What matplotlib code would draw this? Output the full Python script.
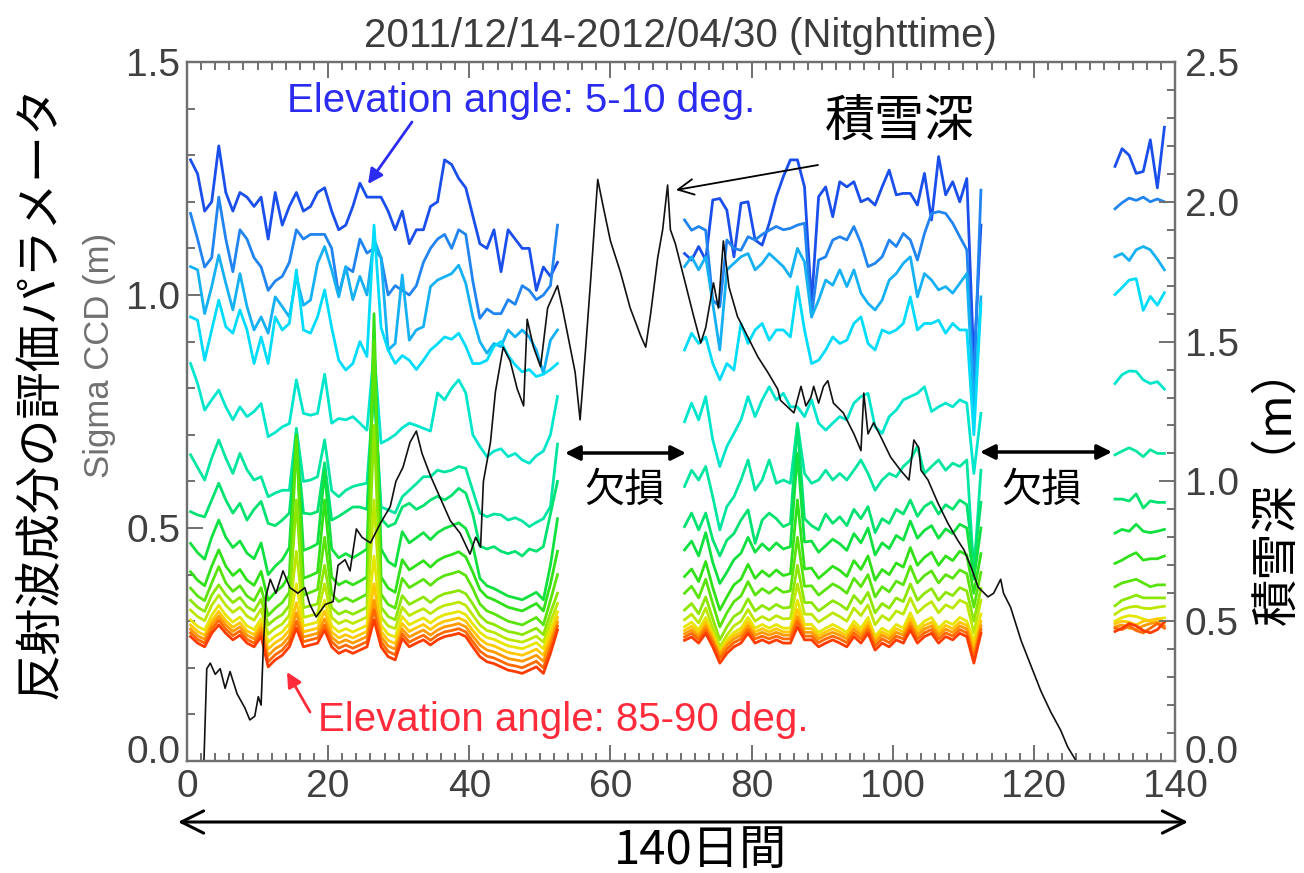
import numpy as np
import matplotlib
matplotlib.use("Agg")
import matplotlib.pyplot as plt
from matplotlib.ticker import MultipleLocator
from matplotlib.patches import FancyArrowPatch
from matplotlib.transforms import ScaledTranslation

# observation days (daily points), data missing between the three runs
days_1 = np.arange(0.5, 53.0, 1.0)
days_2 = np.arange(70.5, 113.0, 1.0)
days_3 = np.arange(131.5, 139.0, 1.0)

# Sigma CCD (m) per elevation bin: run 1 (53), run 2 (43), run 3 (8)
el_05 = [1.29, 1.26, 1.18, 1.20, 1.32, 1.22, 1.18, 1.22, 1.21, 1.19, 1.21, 1.12, 1.22, 1.15, 1.19, 1.22, 1.18, 1.19, 1.22, 1.23, 1.18, 1.14, 1.15, 1.19, 1.24, 1.21, 1.21, 1.21, 1.18, 1.14, 1.18, 1.11, 1.14, 1.14, 1.19, 1.20, 1.29, 1.28, 1.25, 1.23, 1.17, 1.11, 1.10, 1.14, 1.05, 1.14, 1.12, 1.10, 1.10, 1.01, 1.06, 1.04, 1.07,
         1.089, 1.075, 1.104, 1.075, 1.204, 1.207, 1.182, 1.082, 1.197, 1.200, 1.118, 1.107, 1.154, 1.211, 1.254, 1.290, 1.290, 1.232, 0.982, 1.211, 1.232, 1.168, 1.243, 1.232, 1.243, 1.200, 1.207, 1.193, 1.232, 1.268, 1.215, 1.218, 1.218, 1.193, 1.261, 1.161, 1.297, 1.215, 1.243, 1.200, 1.250, 0.850, 1.150,
         1.276, 1.314, 1.300, 1.261, 1.265, 1.333, 1.230, 1.360]
el_10 = [1.175, 1.12, 1.06, 1.08, 1.21, 1.12, 1.05, 1.14, 1.12, 1.08, 1.06, 1.01, 1.03, 1.04, 1.07, 1.14, 1.12, 1.13, 1.13, 1.13, 1.10, 1.00, 1.06, 1.05, 1.12, 1.09, 1.10, 1.08, 1.00, 1.02, 1.01, 1.00, 1.02, 1.07, 1.10, 1.12, 1.13, 1.10, 1.14, 1.13, 1.03, 0.95, 0.97, 0.96, 0.96, 0.99, 0.98, 1.02, 1.01, 0.99, 1.00, 1.02, 1.15,
         1.161, 1.139, 1.147, 1.139, 0.989, 0.975, 1.118, 1.100, 1.096, 1.125, 1.118, 1.130, 1.139, 1.147, 1.140, 1.143, 1.150, 1.154, 0.953, 1.075, 1.082, 1.118, 1.125, 1.118, 1.147, 1.111, 1.061, 1.068, 1.082, 1.118, 1.104, 1.132, 1.118, 1.075, 1.132, 1.175, 1.179, 1.175, 1.154, 1.125, 1.097, 0.800, 1.225,
         1.185, 1.198, 1.208, 1.203, 1.210, 1.200, 1.206, 1.200]
el_15 = [1.061, 1.054, 0.960, 1.018, 1.086, 1.025, 0.968, 1.046, 0.975, 0.925, 0.953, 0.918, 0.996, 0.975, 0.953, 1.039, 0.978, 0.989, 1.068, 1.104, 1.054, 0.996, 1.061, 0.990, 1.040, 1.000, 1.120, 1.080, 0.882, 0.896, 1.043, 0.903, 0.925, 0.932, 1.018, 1.032, 1.039, 1.046, 1.064, 1.025, 0.953, 0.900, 0.875, 0.896, 0.889, 0.925, 0.910, 0.925, 0.910, 0.882, 0.832, 0.903, 0.925,
         1.061, 1.082, 1.054, 1.082, 0.982, 0.882, 1.054, 1.068, 1.082, 1.089, 1.054, 1.068, 1.089, 1.075, 1.061, 1.039, 1.100, 1.071, 0.953, 0.989, 1.032, 1.021, 1.054, 1.018, 1.054, 1.004, 0.982, 0.968, 0.989, 1.032, 1.046, 1.068, 1.082, 0.996, 1.046, 1.032, 1.011, 1.018, 1.004, 1.025, 1.046, 0.750, 0.996,
         1.082, 1.089, 1.074, 1.097, 1.104, 1.097, 1.077, 1.054]
el_20 = [0.953, 0.946, 0.860, 0.925, 0.989, 0.932, 0.918, 0.968, 0.925, 0.853, 0.910, 0.853, 0.953, 0.925, 0.939, 1.054, 0.925, 0.918, 0.953, 1.011, 0.930, 0.860, 0.839, 0.853, 0.900, 0.868, 1.150, 0.930, 0.882, 0.853, 0.870, 0.860, 0.840, 0.860, 0.882, 0.895, 0.910, 0.905, 0.918, 0.890, 0.853, 0.853, 0.860, 0.890, 0.900, 0.870, 0.850, 0.835, 0.840, 0.825, 0.830, 0.840, 0.853,
         0.882, 0.918, 0.896, 0.910, 0.853, 0.818, 0.853, 0.839, 0.939, 0.896, 0.925, 0.939, 0.903, 0.925, 0.925, 0.910, 1.018, 0.925, 0.853, 0.860, 0.882, 0.910, 0.896, 0.903, 0.939, 0.953, 0.896, 0.882, 0.925, 0.918, 0.925, 0.939, 0.996, 0.925, 0.939, 0.939, 0.946, 0.918, 0.939, 0.925, 0.925, 0.700, 0.982,
         1.001, 1.016, 1.032, 1.035, 0.967, 0.997, 0.978, 1.005]
el_25 = [0.853, 0.810, 0.753, 0.775, 0.796, 0.760, 0.732, 0.760, 0.739, 0.750, 0.767, 0.696, 0.705, 0.717, 0.724, 0.818, 0.746, 0.742, 0.746, 0.830, 0.725, 0.735, 0.732, 0.739, 0.725, 0.710, 0.880, 0.682, 0.690, 0.700, 0.715, 0.725, 0.720, 0.714, 0.708, 0.790, 0.775, 0.800, 0.818, 0.790, 0.700, 0.675, 0.653, 0.665, 0.670, 0.653, 0.660, 0.646, 0.639, 0.655, 0.665, 0.700, 0.782,
         0.728, 0.768, 0.732, 0.782, 0.689, 0.632, 0.675, 0.703, 0.732, 0.782, 0.739, 0.775, 0.803, 0.775, 0.789, 0.760, 0.760, 0.739, 0.775, 0.725, 0.710, 0.725, 0.739, 0.732, 0.768, 0.782, 0.789, 0.717, 0.703, 0.739, 0.753, 0.775, 0.782, 0.789, 0.803, 0.750, 0.760, 0.768, 0.760, 0.775, 0.768, 0.617, 0.746,
         0.810, 0.829, 0.837, 0.836, 0.818, 0.810, 0.814, 0.798]
el_30 = [0.657, 0.630, 0.603, 0.650, 0.689, 0.650, 0.617, 0.660, 0.625, 0.603, 0.610, 0.567, 0.575, 0.581, 0.581, 0.714, 0.600, 0.603, 0.610, 0.689, 0.580, 0.567, 0.581, 0.589, 0.593, 0.596, 0.800, 0.545, 0.539, 0.532, 0.567, 0.581, 0.595, 0.610, 0.610, 0.624, 0.620, 0.624, 0.632, 0.628, 0.580, 0.532, 0.524, 0.530, 0.528, 0.517, 0.522, 0.515, 0.503, 0.512, 0.520, 0.546, 0.680,
         0.589, 0.624, 0.603, 0.632, 0.567, 0.496, 0.546, 0.567, 0.603, 0.646, 0.581, 0.603, 0.646, 0.596, 0.603, 0.596, 0.725, 0.617, 0.596, 0.603, 0.624, 0.603, 0.617, 0.603, 0.624, 0.646, 0.617, 0.581, 0.603, 0.617, 0.610, 0.632, 0.646, 0.675, 0.617, 0.632, 0.646, 0.624, 0.639, 0.632, 0.646, 0.403, 0.624,
         0.657, 0.665, 0.672, 0.665, 0.653, 0.668, 0.660, 0.660]
el_35 = [0.535, 0.528, 0.524, 0.560, 0.596, 0.560, 0.532, 0.553, 0.517, 0.540, 0.557, 0.510, 0.505, 0.517, 0.532, 0.690, 0.532, 0.530, 0.535, 0.640, 0.517, 0.525, 0.535, 0.545, 0.545, 0.540, 0.820, 0.520, 0.503, 0.510, 0.545, 0.553, 0.540, 0.548, 0.560, 0.568, 0.560, 0.570, 0.585, 0.575, 0.530, 0.461, 0.455, 0.460, 0.450, 0.445, 0.450, 0.440, 0.455, 0.450, 0.460, 0.530, 0.600,
         0.503, 0.532, 0.496, 0.532, 0.475, 0.440, 0.474, 0.488, 0.517, 0.539, 0.467, 0.517, 0.532, 0.520, 0.503, 0.510, 0.720, 0.520, 0.505, 0.496, 0.530, 0.510, 0.524, 0.505, 0.540, 0.520, 0.546, 0.490, 0.520, 0.510, 0.540, 0.530, 0.560, 0.525, 0.546, 0.556, 0.530, 0.550, 0.540, 0.560, 0.550, 0.420, 0.555,
         0.562, 0.562, 0.558, 0.573, 0.543, 0.558, 0.555, 0.555]
el_40 = [0.467, 0.447, 0.433, 0.480, 0.517, 0.480, 0.458, 0.472, 0.446, 0.434, 0.468, 0.400, 0.418, 0.432, 0.458, 0.700, 0.452, 0.458, 0.466, 0.620, 0.455, 0.436, 0.445, 0.436, 0.445, 0.455, 0.880, 0.455, 0.428, 0.418, 0.492, 0.468, 0.479, 0.490, 0.475, 0.490, 0.499, 0.505, 0.511, 0.499, 0.462, 0.392, 0.376, 0.370, 0.362, 0.354, 0.350, 0.346, 0.354, 0.362, 0.346, 0.420, 0.520,
         0.453, 0.472, 0.440, 0.490, 0.426, 0.381, 0.405, 0.432, 0.446, 0.480, 0.448, 0.466, 0.452, 0.468, 0.455, 0.460, 0.660, 0.470, 0.472, 0.448, 0.462, 0.476, 0.466, 0.452, 0.488, 0.468, 0.500, 0.442, 0.468, 0.456, 0.484, 0.474, 0.515, 0.478, 0.495, 0.505, 0.478, 0.498, 0.488, 0.508, 0.500, 0.390, 0.500,
         0.489, 0.497, 0.493, 0.508, 0.493, 0.490, 0.493, 0.497]
el_45 = [0.406, 0.388, 0.376, 0.418, 0.453, 0.418, 0.398, 0.411, 0.388, 0.377, 0.407, 0.345, 0.362, 0.375, 0.398, 0.700, 0.392, 0.398, 0.405, 0.560, 0.395, 0.378, 0.386, 0.378, 0.386, 0.395, 0.960, 0.395, 0.371, 0.362, 0.432, 0.410, 0.420, 0.430, 0.416, 0.430, 0.438, 0.443, 0.449, 0.438, 0.405, 0.368, 0.352, 0.346, 0.338, 0.330, 0.326, 0.322, 0.330, 0.338, 0.322, 0.380, 0.450,
         0.396, 0.412, 0.385, 0.428, 0.372, 0.324, 0.352, 0.378, 0.390, 0.422, 0.392, 0.408, 0.396, 0.410, 0.398, 0.402, 0.560, 0.412, 0.414, 0.392, 0.405, 0.418, 0.409, 0.396, 0.430, 0.411, 0.440, 0.388, 0.411, 0.400, 0.425, 0.416, 0.458, 0.420, 0.437, 0.448, 0.420, 0.440, 0.430, 0.450, 0.442, 0.360, 0.445,
         0.424, 0.431, 0.440, 0.447, 0.431, 0.434, 0.434, 0.440]
el_50 = [0.371, 0.354, 0.344, 0.382, 0.417, 0.382, 0.364, 0.376, 0.354, 0.344, 0.372, 0.312, 0.328, 0.340, 0.362, 0.690, 0.356, 0.362, 0.368, 0.480, 0.358, 0.342, 0.350, 0.342, 0.350, 0.358, 0.900, 0.358, 0.336, 0.328, 0.392, 0.372, 0.381, 0.390, 0.377, 0.390, 0.398, 0.402, 0.407, 0.398, 0.370, 0.337, 0.322, 0.316, 0.308, 0.300, 0.296, 0.292, 0.300, 0.308, 0.292, 0.345, 0.400,
         0.360, 0.375, 0.350, 0.390, 0.338, 0.288, 0.318, 0.342, 0.354, 0.385, 0.356, 0.370, 0.360, 0.372, 0.362, 0.365, 0.480, 0.375, 0.376, 0.356, 0.368, 0.380, 0.372, 0.360, 0.392, 0.374, 0.400, 0.352, 0.374, 0.363, 0.386, 0.378, 0.418, 0.382, 0.398, 0.408, 0.382, 0.400, 0.392, 0.410, 0.402, 0.330, 0.405,
         0.374, 0.382, 0.386, 0.390, 0.382, 0.374, 0.378, 0.378]
el_55 = [0.345, 0.330, 0.321, 0.356, 0.378, 0.356, 0.340, 0.351, 0.331, 0.322, 0.347, 0.292, 0.305, 0.314, 0.334, 0.560, 0.329, 0.333, 0.337, 0.420, 0.329, 0.315, 0.322, 0.315, 0.322, 0.330, 0.720, 0.330, 0.310, 0.303, 0.355, 0.336, 0.344, 0.352, 0.340, 0.352, 0.359, 0.362, 0.366, 0.359, 0.337, 0.312, 0.298, 0.293, 0.285, 0.278, 0.275, 0.271, 0.278, 0.285, 0.271, 0.318, 0.360,
         0.324, 0.338, 0.316, 0.352, 0.305, 0.260, 0.288, 0.310, 0.320, 0.348, 0.322, 0.334, 0.325, 0.336, 0.328, 0.330, 0.420, 0.340, 0.340, 0.322, 0.333, 0.344, 0.336, 0.325, 0.355, 0.338, 0.362, 0.318, 0.338, 0.328, 0.350, 0.342, 0.380, 0.345, 0.360, 0.370, 0.345, 0.362, 0.355, 0.372, 0.365, 0.300, 0.370,
         0.333, 0.345, 0.350, 0.356, 0.350, 0.350, 0.350, 0.350]
el_60 = [0.324, 0.310, 0.301, 0.334, 0.356, 0.334, 0.319, 0.330, 0.311, 0.302, 0.326, 0.272, 0.285, 0.294, 0.313, 0.450, 0.308, 0.312, 0.316, 0.380, 0.308, 0.295, 0.302, 0.295, 0.302, 0.309, 0.560, 0.309, 0.290, 0.284, 0.330, 0.312, 0.320, 0.327, 0.316, 0.327, 0.334, 0.337, 0.341, 0.334, 0.313, 0.292, 0.280, 0.276, 0.268, 0.261, 0.258, 0.255, 0.261, 0.268, 0.255, 0.298, 0.338,
         0.303, 0.315, 0.296, 0.328, 0.285, 0.245, 0.270, 0.290, 0.300, 0.325, 0.300, 0.310, 0.302, 0.312, 0.305, 0.306, 0.380, 0.315, 0.315, 0.298, 0.308, 0.318, 0.310, 0.300, 0.328, 0.312, 0.335, 0.292, 0.312, 0.302, 0.322, 0.315, 0.350, 0.318, 0.332, 0.342, 0.318, 0.335, 0.328, 0.345, 0.338, 0.275, 0.345,
         0.315, 0.325, 0.330, 0.332, 0.328, 0.327, 0.330, 0.332]
el_65 = [0.303, 0.289, 0.281, 0.313, 0.334, 0.313, 0.298, 0.309, 0.290, 0.282, 0.305, 0.255, 0.268, 0.277, 0.295, 0.380, 0.290, 0.294, 0.298, 0.345, 0.290, 0.277, 0.284, 0.277, 0.284, 0.291, 0.440, 0.291, 0.272, 0.266, 0.310, 0.292, 0.300, 0.307, 0.296, 0.307, 0.314, 0.317, 0.321, 0.314, 0.294, 0.276, 0.265, 0.261, 0.254, 0.247, 0.244, 0.241, 0.247, 0.254, 0.241, 0.282, 0.320,
         0.288, 0.298, 0.282, 0.308, 0.272, 0.236, 0.260, 0.276, 0.285, 0.308, 0.285, 0.293, 0.285, 0.293, 0.285, 0.285, 0.345, 0.293, 0.293, 0.276, 0.285, 0.293, 0.285, 0.276, 0.300, 0.285, 0.308, 0.268, 0.285, 0.276, 0.293, 0.285, 0.318, 0.285, 0.300, 0.308, 0.285, 0.300, 0.293, 0.308, 0.300, 0.258, 0.315,
         0.300, 0.308, 0.312, 0.310, 0.305, 0.300, 0.305, 0.307]
el_70 = [0.292, 0.278, 0.270, 0.301, 0.321, 0.301, 0.287, 0.297, 0.279, 0.271, 0.294, 0.240, 0.254, 0.263, 0.281, 0.340, 0.277, 0.281, 0.285, 0.322, 0.277, 0.264, 0.271, 0.264, 0.271, 0.278, 0.380, 0.278, 0.259, 0.252, 0.295, 0.278, 0.286, 0.293, 0.282, 0.293, 0.300, 0.303, 0.307, 0.300, 0.280, 0.262, 0.251, 0.247, 0.240, 0.233, 0.230, 0.227, 0.233, 0.240, 0.227, 0.268, 0.308,
         0.280, 0.289, 0.275, 0.298, 0.267, 0.232, 0.254, 0.269, 0.277, 0.298, 0.277, 0.284, 0.277, 0.284, 0.277, 0.277, 0.325, 0.284, 0.284, 0.269, 0.277, 0.284, 0.277, 0.269, 0.291, 0.277, 0.298, 0.262, 0.277, 0.269, 0.284, 0.277, 0.306, 0.277, 0.291, 0.298, 0.277, 0.291, 0.284, 0.298, 0.291, 0.245, 0.300,
         0.295, 0.300, 0.298, 0.292, 0.300, 0.302, 0.305, 0.298]
el_75 = [0.283, 0.269, 0.261, 0.292, 0.311, 0.292, 0.278, 0.288, 0.270, 0.262, 0.285, 0.226, 0.241, 0.250, 0.268, 0.318, 0.266, 0.270, 0.274, 0.305, 0.266, 0.253, 0.260, 0.253, 0.260, 0.267, 0.345, 0.267, 0.247, 0.240, 0.283, 0.266, 0.274, 0.281, 0.270, 0.281, 0.288, 0.291, 0.295, 0.288, 0.268, 0.249, 0.238, 0.234, 0.227, 0.220, 0.217, 0.214, 0.220, 0.227, 0.214, 0.255, 0.298,
         0.273, 0.281, 0.268, 0.290, 0.261, 0.228, 0.248, 0.262, 0.270, 0.290, 0.270, 0.276, 0.270, 0.276, 0.270, 0.270, 0.310, 0.276, 0.276, 0.262, 0.270, 0.276, 0.270, 0.262, 0.283, 0.270, 0.290, 0.255, 0.270, 0.262, 0.276, 0.270, 0.297, 0.270, 0.283, 0.290, 0.270, 0.283, 0.276, 0.290, 0.283, 0.232, 0.290,
         0.288, 0.292, 0.285, 0.283, 0.290, 0.295, 0.298, 0.290]
el_80 = [0.275, 0.261, 0.253, 0.283, 0.302, 0.283, 0.269, 0.279, 0.261, 0.253, 0.276, 0.213, 0.228, 0.238, 0.256, 0.300, 0.256, 0.260, 0.264, 0.292, 0.256, 0.242, 0.249, 0.242, 0.249, 0.256, 0.325, 0.256, 0.235, 0.228, 0.273, 0.255, 0.263, 0.270, 0.259, 0.270, 0.277, 0.280, 0.284, 0.277, 0.256, 0.236, 0.225, 0.221, 0.214, 0.207, 0.204, 0.200, 0.207, 0.214, 0.200, 0.242, 0.289,
         0.266, 0.274, 0.261, 0.282, 0.254, 0.220, 0.240, 0.254, 0.262, 0.282, 0.262, 0.268, 0.262, 0.268, 0.262, 0.262, 0.300, 0.268, 0.268, 0.254, 0.262, 0.268, 0.262, 0.254, 0.275, 0.262, 0.282, 0.247, 0.262, 0.254, 0.268, 0.262, 0.289, 0.262, 0.275, 0.282, 0.262, 0.275, 0.268, 0.282, 0.275, 0.220, 0.282,
         0.285, 0.282, 0.290, 0.280, 0.275, 0.285, 0.295, 0.285]
el_85 = [0.267, 0.253, 0.245, 0.274, 0.292, 0.274, 0.260, 0.270, 0.253, 0.245, 0.267, 0.202, 0.217, 0.227, 0.245, 0.285, 0.245, 0.249, 0.253, 0.281, 0.245, 0.231, 0.238, 0.231, 0.238, 0.245, 0.303, 0.245, 0.224, 0.217, 0.263, 0.245, 0.253, 0.260, 0.249, 0.260, 0.267, 0.270, 0.274, 0.267, 0.245, 0.224, 0.213, 0.209, 0.202, 0.195, 0.192, 0.188, 0.195, 0.202, 0.188, 0.231, 0.281,
         0.259, 0.266, 0.253, 0.274, 0.245, 0.210, 0.231, 0.245, 0.253, 0.274, 0.253, 0.260, 0.253, 0.260, 0.253, 0.253, 0.288, 0.260, 0.260, 0.245, 0.253, 0.260, 0.253, 0.245, 0.267, 0.253, 0.274, 0.238, 0.253, 0.245, 0.260, 0.253, 0.281, 0.253, 0.267, 0.274, 0.253, 0.267, 0.260, 0.274, 0.267, 0.210, 0.274,
         0.278, 0.285, 0.295, 0.290, 0.280, 0.275, 0.282, 0.298]

sigma_lines = [el_05, el_10, el_15, el_20, el_25, el_30, el_35, el_40, el_45,
               el_50, el_55, el_60, el_65, el_70, el_75, el_80, el_85]

# snow depth (m, right axis)
snow_day = [2.4, 2.8, 3.3, 4.0, 4.7, 5.4, 6.1, 7.1, 8.2, 8.9, 9.6, 10.1, 10.5, 10.8, 11.2, 11.8, 12.6, 13.6, 14.6, 15.7,
            16.7, 17.4, 18.3, 19.6, 20.7, 21.4, 22.4, 23.1, 24.0, 24.8, 26.0, 27.4, 28.8, 29.6, 30.6, 31.6, 32.5, 33.3, 34.5, 35.9,
            37.3, 38.7, 40.1, 40.9, 41.6, 42.0, 43.0, 43.7, 44.8, 45.8, 46.8, 47.7, 48.2, 49.1, 50.1, 51.1, 51.8, 52.5, 53.2, 54.3,
            55.0, 55.7, 56.5, 57.2, 58.2, 59.0, 60.0, 61.4, 62.8, 64.3, 65.0, 65.7, 66.7, 67.4, 68.1, 68.5, 69.2, 70.4, 71.8, 72.8,
            73.5, 74.6, 75.3, 76.0, 76.8, 78.0, 79.4, 80.9, 82.3, 83.7, 84.1, 86.0, 87.0, 87.7, 88.4, 88.8, 89.5, 90.2, 90.8, 91.6,
            93.0, 94.5, 95.5, 95.9, 96.5, 97.3, 98.3, 99.7, 101.1, 102.3, 103.0, 103.7, 104.0, 105.0, 106.4, 107.8, 109.2, 110.1, 111.1, 112.1,
            113.5, 114.3, 115.3, 115.7, 116.7, 118.2, 119.6, 121.0, 122.4, 123.8, 124.8, 126.0]
snow_depth = [0.0, 0.33, 0.35, 0.31, 0.33, 0.26, 0.32, 0.24, 0.19, 0.147, 0.16, 0.23, 0.20, 0.40, 0.59, 0.65, 0.60, 0.68, 0.62, 0.60,
              0.62, 0.56, 0.515, 0.56, 0.57, 0.70, 0.72, 0.68, 0.83, 0.80, 0.78, 0.85, 0.91, 1.00, 1.05, 1.14, 1.18, 1.10, 1.02, 0.94,
              0.86, 0.815, 0.74, 0.80, 0.765, 1.00, 1.14, 1.32, 1.48, 1.43, 1.33, 1.27, 1.58, 1.48, 1.41, 1.62, 1.66, 1.70, 1.62, 1.48,
              1.39, 1.22, 1.48, 1.72, 2.08, 1.98, 1.86, 1.75, 1.62, 1.52, 1.48, 1.60, 1.80, 1.90, 2.06, 1.90, 1.85, 1.73, 1.59, 1.495,
              1.55, 1.71, 1.62, 1.86, 1.695, 1.59, 1.52, 1.445, 1.39, 1.33, 1.29, 1.245, 1.34, 1.27, 1.30, 1.34, 1.28, 1.34, 1.36, 1.28,
              1.245, 1.17, 1.11, 1.316, 1.17, 1.21, 1.16, 1.087, 1.04, 1.005, 1.148, 1.12, 1.04, 1.005, 0.923, 0.851, 0.79, 0.755, 0.694, 0.622,
              0.587, 0.60, 0.65, 0.60, 0.55, 0.43, 0.34, 0.25, 0.175, 0.11, 0.05, 0.0]

line_colors = ['#1a4fec', '#2184f0', '#15b1f3', '#00dcfa', '#00e6cc', '#00e6a0', '#00e270',
               '#10e040', '#30e018', '#5ae30a', '#8ce600', '#bce800', '#e6e600', '#ffc800',
               '#ff9a00', '#ff6a00', '#ff3c00']

W, H = 1304, 873
plt.rcParams['font.family'] = ['Liberation Sans', 'DejaVu Sans']
jp = ['Noto Sans CJK JP', 'DejaVu Sans']


def px(x, y):
    return (x / W, 1 - y / H)


fig = plt.figure(figsize=(W / 100, H / 100), dpi=100)
ax = fig.add_axes([187 / W, 1 - 761 / H, (1175 - 187) / W, (761 - 62) / H])

n1, n2 = len(days_1), len(days_2)
for vals, col in zip(sigma_lines, line_colors):
    ax.plot(days_1, vals[:n1], color=col, lw=2.0)
    ax.plot(days_2, vals[n1:n1 + n2], color=col, lw=2.0)
    ax.plot(days_3, vals[n1 + n2:], color=col, lw=2.0)

ax.set_xlim(0, 140)
ax.set_ylim(0, 1.5)
ax.xaxis.set_major_locator(MultipleLocator(20))
ax.xaxis.set_minor_locator(MultipleLocator(2))
ax.yaxis.set_major_locator(MultipleLocator(0.5))
ax.yaxis.set_minor_locator(MultipleLocator(0.1))
ax.yaxis.set_major_formatter(lambda v, p: f"{v:.1f}")

ax2 = ax.twinx()
ax2.plot(snow_day, snow_depth, color='#111111', lw=1.2)
ax2.set_ylim(0, 2.5)
ax2.yaxis.set_major_locator(MultipleLocator(0.5))
ax2.yaxis.set_minor_locator(MultipleLocator(0.1))
ax2.yaxis.set_major_formatter(lambda v, p: f"{v:.1f}")

spine_col = '#707070'
for a in (ax, ax2):
    for s in a.spines.values():
        s.set_color(spine_col)
        s.set_linewidth(1.6)
ax.tick_params(axis='x', which='both', direction='in', top=True, bottom=True,
               color=spine_col, labelsize=28, labelcolor='#404040', pad=6)
ax.tick_params(axis='y', which='both', direction='in', left=True, right=False,
               color=spine_col, labelsize=28, labelcolor='#404040', pad=5)
ax2.tick_params(axis='y', which='both', direction='in', color=spine_col,
                labelsize=28, labelcolor='#404040', pad=7)
for a in (ax, ax2):
    a.tick_params(which='major', length=11.5, width=1.4)
    a.tick_params(which='minor', length=5.8, width=1.4)

# the bottom y labels sit a little above their tick, as in the original
fig.canvas.draw()
lift = ScaledTranslation(0, 0.12, fig.dpi_scale_trans)
for a in (ax, ax2):
    for lbl in a.get_yticklabels():
        if lbl.get_text() == '0.0':
            lbl.set_transform(lbl.get_transform() + lift)

# titles and axis labels
fig.text(*px(680, 36), "2011/12/14-2012/04/30 (Nitghttime)", ha='center', va='center',
         fontsize=29, color='#3c3c3c')
fig.text(*px(40, 392), "反射波成分の評価パラメータ", rotation=90, ha='center', va='center',
         fontsize=34, family=jp)
fig.text(*px(100, 355), "Sigma CCD (m)", rotation=90, ha='center', va='center',
         fontsize=25, color='#707070', family=['Liberation Sans Narrow', 'Liberation Sans'])
fig.text(*px(1277, 485), "積雪深（m）", rotation=90, ha='center', va='center',
         fontsize=34, family=jp)

# annotations
fig.text(*px(287, 101), "Elevation angle: 5-10 deg.", ha='left', va='center',
         fontsize=29, color='#2b2bf2')
fig.text(*px(318, 720), "Elevation angle: 85-90 deg.", ha='left', va='center',
         fontsize=29, color='#ff2b3b')
fig.text(*px(900, 122), "積雪深", ha='center', va='center', fontsize=36, family=jp)
fig.text(*px(625, 490), "欠損", ha='center', va='center', fontsize=29, family=jp)
fig.text(*px(1042, 490), "欠損", ha='center', va='center', fontsize=29, family=jp)
fig.text(*px(700, 851), "140日間", ha='center', va='center', fontsize=34, family=jp)


def arrow(p0, p1, style, color, lw, scale):
    fig.add_artist(FancyArrowPatch(px(*p0), px(*p1), transform=fig.transFigure,
                                   arrowstyle=style, color=color, lw=lw,
                                   mutation_scale=scale, shrinkA=0, shrinkB=0))


arrow((412, 122), (368, 184), '-|>', '#2b2bf2', 2.0, 22)
arrow((310, 712), (287, 672), '-|>', '#ff2b3b', 2.0, 22)
arrow((818, 165), (676, 190), '->', 'black', 1.3, 28)
arrow((565, 453), (686, 453), '<|-|>', 'black', 2.5, 22)
arrow((980, 452), (1112, 452), '<|-|>', 'black', 2.5, 22)
arrow((178, 822), (1188, 822), '<->', 'black', 2.2, 40)

fig.savefig("out.png", dpi=100)
